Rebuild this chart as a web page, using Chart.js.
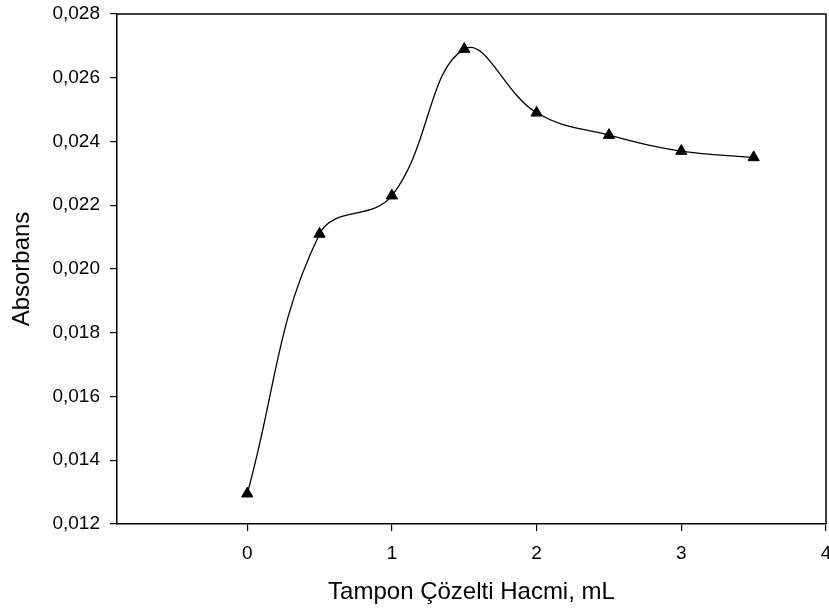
<!doctype html>
<html lang="tr">
<head>
  <meta charset="utf-8">
  <title>Absorbans - Tampon Çözelti Hacmi</title>
  <script src="https://cdn.jsdelivr.net/npm/chart.js"></script>
  <style>
    html, body { margin: 0; padding: 0; background: #fff; }
  </style>
</head>
<body>
<canvas id="absChart" width="829" height="615"></canvas>

<script>
  // values
  const volumes = [0, 0.5, 1, 1.5, 2, 2.5, 3, 3.5];
  const absorbance = [0.01295, 0.0211, 0.0223, 0.0269, 0.0249, 0.0242, 0.0237, 0.0235];
  const xTicks = [0, 1, 2, 3, 4];
  const yTicks = [0.012, 0.014, 0.016, 0.018, 0.020, 0.022, 0.024, 0.026, 0.028];

  const fontFamily = '"Liberation Sans", Arial, sans-serif';

  // draws the top and right edge of the frame
  const frameBox = {
    id: 'frameBox',
    afterDraw(chart) {
      const { ctx, chartArea } = chart;
      ctx.save();
      ctx.strokeStyle = '#000';
      ctx.lineWidth = 1.5;
      ctx.beginPath();
      ctx.moveTo(chartArea.left, chartArea.top);
      ctx.lineTo(chartArea.right, chartArea.top);
      ctx.lineTo(chartArea.right, chartArea.bottom);
      ctx.stroke();
      ctx.restore();
    }
  };

  const ctx = document.getElementById('absChart').getContext('2d');
  const absChart = new Chart(ctx, {
    type: 'line',
    data: {
      datasets: [{
        label: 'Absorbans',
        data: volumes.map((v, i) => ({ x: v, y: absorbance[i] })),
        borderColor: '#000',
        borderWidth: 1.3,
        backgroundColor: '#000',
        pointStyle: 'triangle',
        pointRadius: 6.5,
        pointBorderWidth: 1,
        pointBackgroundColor: '#000',
        pointBorderColor: '#000',
        tension: 0.4,
        fill: false
      }]
    },
    options: {
      responsive: false,
      animation: false,
      layout: { autoPadding: false, padding: { top: 14, right: 3, left: 0, bottom: 0 } },
      plugins: {
        legend: { display: false },
        tooltip: { enabled: false }
      },
      scales: {
        x: {
          type: 'linear',
          min: -0.9,
          max: 4,
          afterBuildTicks: scale => { scale.ticks = xTicks.map(v => ({ value: v })); },
          afterFit: scale => {
            scale.height = 91;
            scale.paddingLeft = 0;
            scale.paddingRight = 0;
          },
          grid: { drawOnChartArea: false, drawTicks: true, tickLength: 7, color: '#000', lineWidth: 1.2 },
          border: { color: '#000', width: 1.5 },
          ticks: {
            color: '#000',
            padding: 11,
            maxRotation: 0,
            font: { family: fontFamily, size: 19 },
            callback: v => String(v)
          },
          title: {
            display: true,
            text: 'Tampon Çözelti Hacmi, mL',
            color: '#000',
            font: { family: fontFamily, size: 24 },
            padding: { top: 8, bottom: 8 }
          }
        },
        y: {
          min: 0.012,
          max: 0.028,
          afterBuildTicks: scale => { scale.ticks = yTicks.map(v => ({ value: v })); },
          afterFit: scale => {
            scale.width = 117;
            scale.paddingTop = 0;
            scale.paddingBottom = 0;
          },
          grid: { drawOnChartArea: false, drawTicks: true, tickLength: 7, color: '#000', lineWidth: 1.2 },
          border: { color: '#000', width: 1.5 },
          ticks: {
            color: '#000',
            padding: 10,
            font: { family: fontFamily, size: 19 },
            callback: v => v.toFixed(3).replace('.', ',')
          },
          title: {
            display: true,
            text: 'Absorbans',
            color: '#000',
            font: { family: fontFamily, size: 24 },
            padding: { top: 8, bottom: 8 }
          }
        }
      }
    },
    plugins: [frameBox]
  });
</script>
</body>
</html>
